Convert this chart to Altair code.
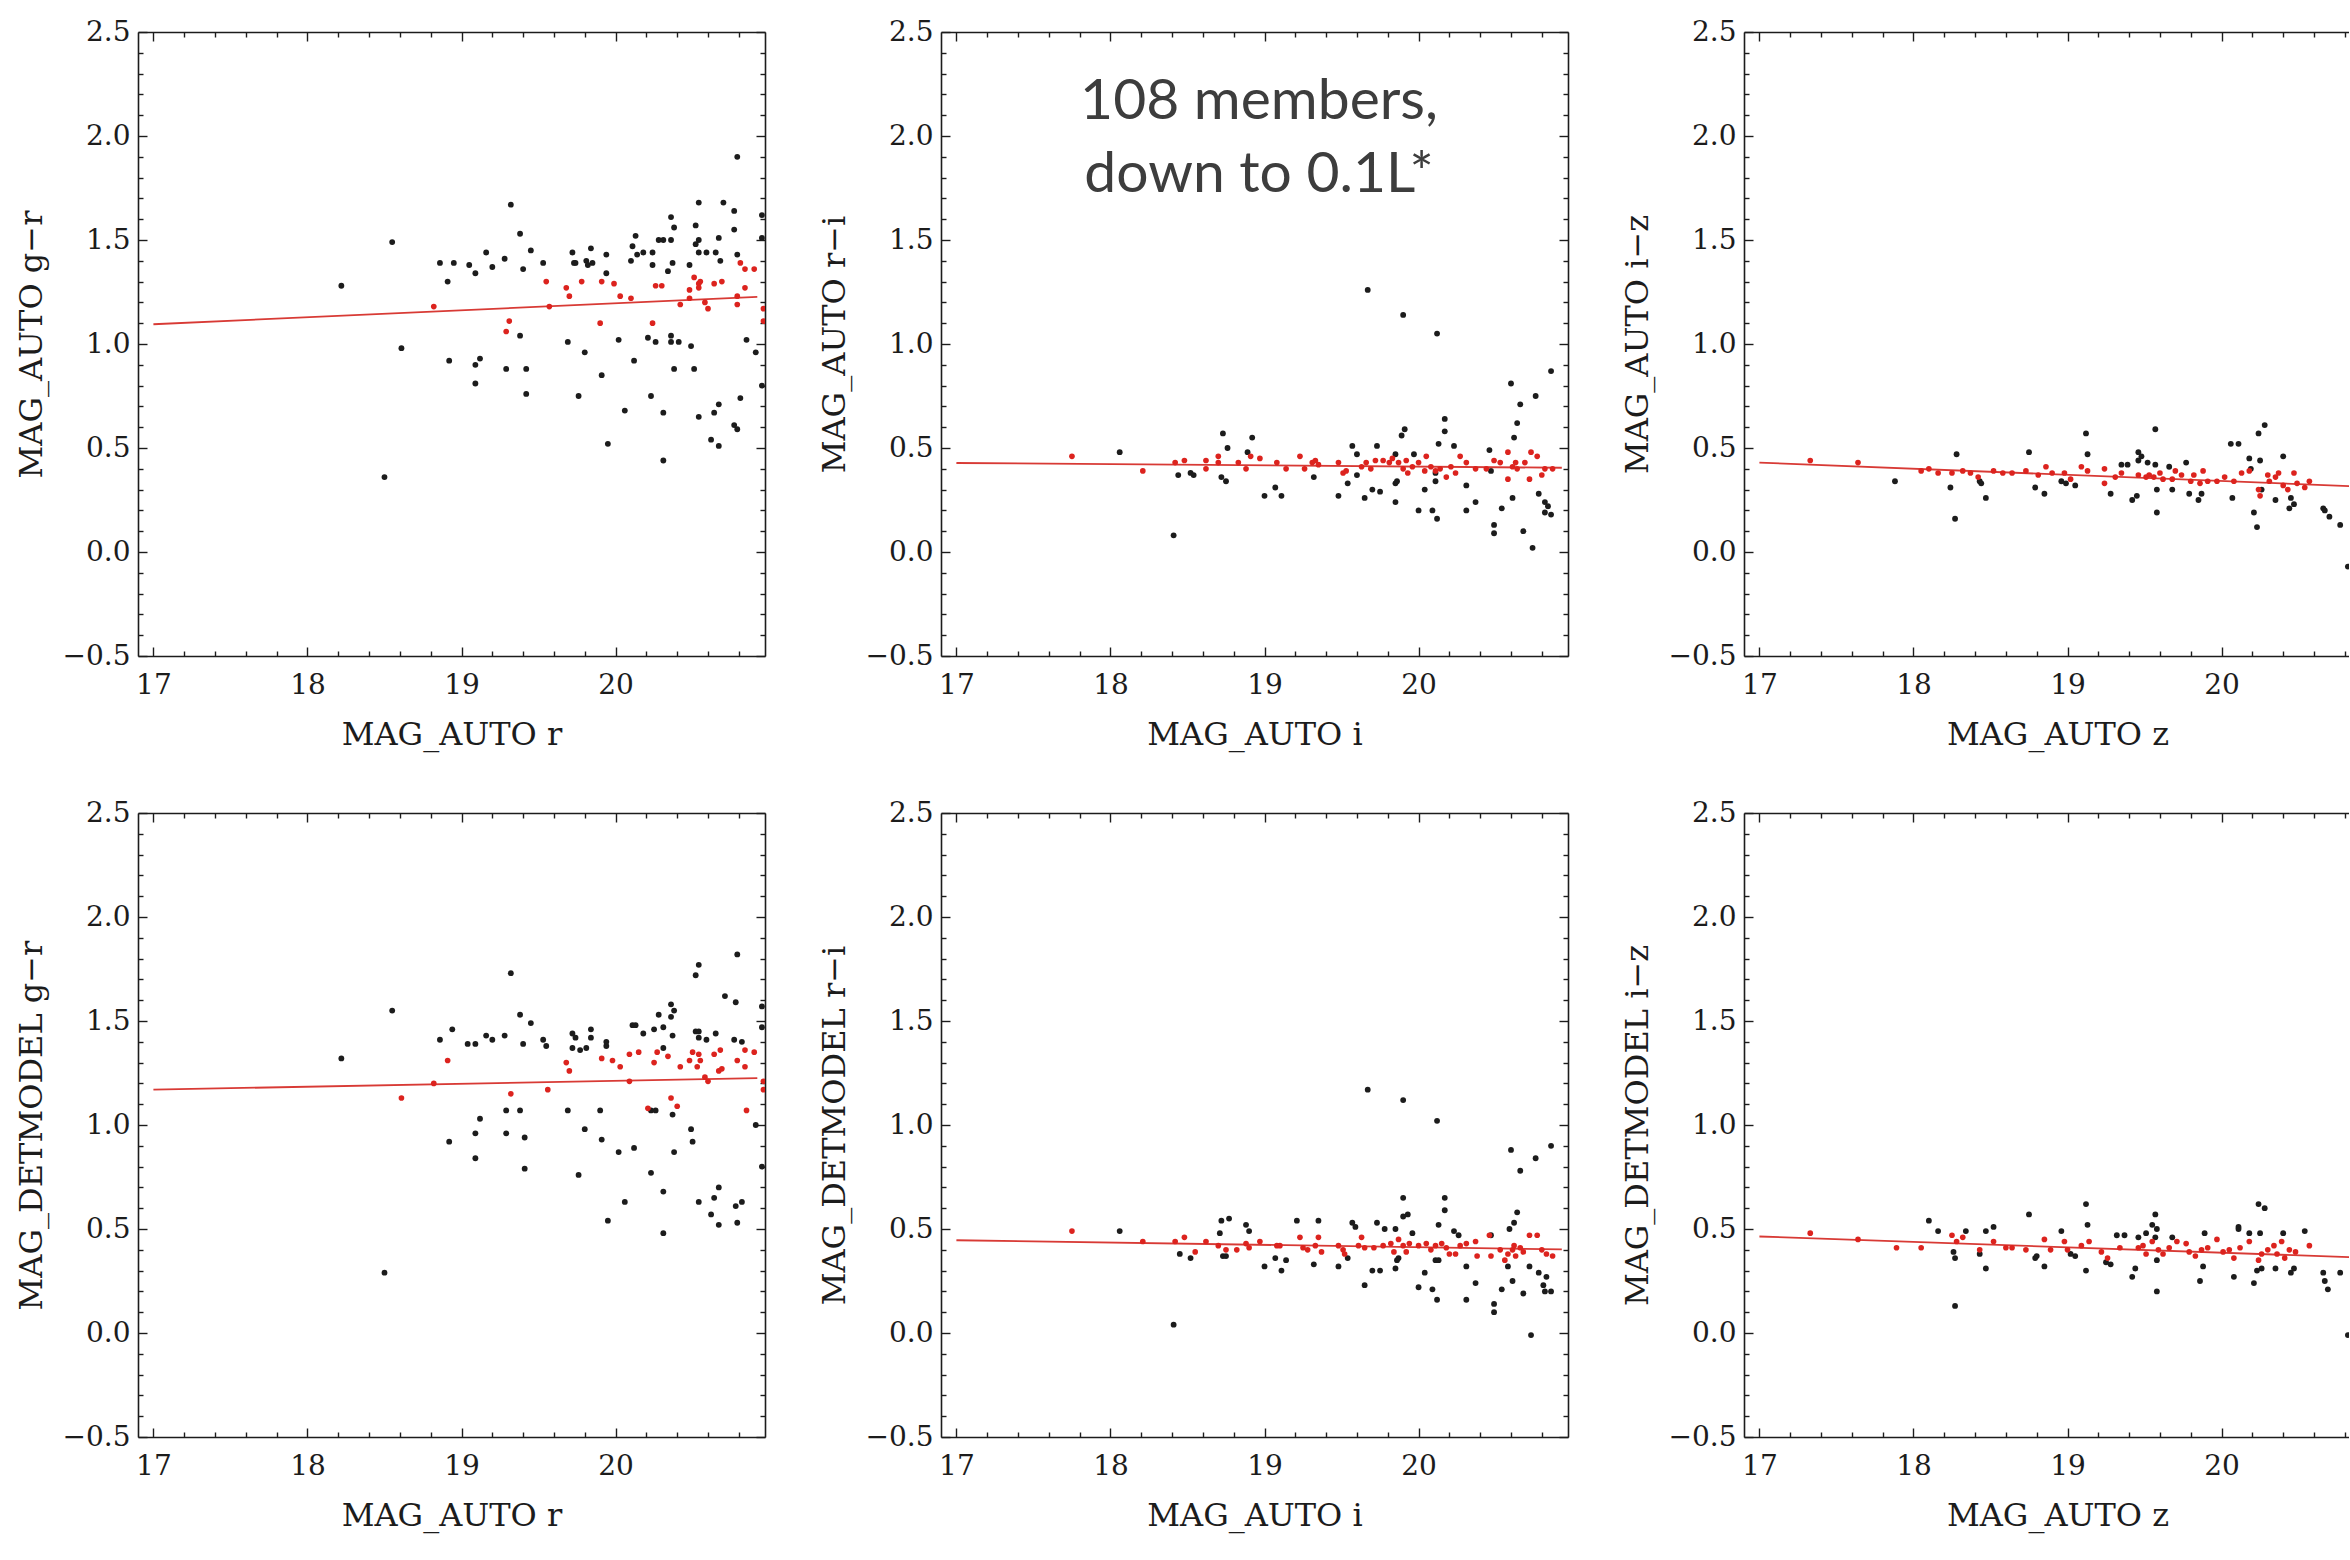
import altair as alt
import pandas as pd

# ---------------- text ----------------
X_TITLES = ["MAG_AUTO r", "MAG_AUTO i", "MAG_AUTO z"]
Y_TITLES_TOP = ["MAG_AUTO g\u2212r", "MAG_AUTO r\u2212i", "MAG_AUTO i\u2212z"]
Y_TITLES_BOTTOM = ["MAG_DETMODEL g\u2212r", "MAG_DETMODEL r\u2212i", "MAG_DETMODEL i\u2212z"]
NOTE_LINES = ["108 members,", "down to 0.1L*"]

# axis tick positions (minor every 0.2 mag / 0.1 colour; majors labelled)
x_ticks = [round(17.0 + 0.2 * i, 1) for i in range(21)]
y_ticks = [round(-0.5 + 0.1 * i, 1) for i in range(31)]

# ---------------- data (magnitude, colour) ----------------
# panel 1: MAG_AUTO r vs MAG_AUTO g-r
p1_all = [
    (20.79, 1.90), (19.32, 1.67), (18.55, 1.49), (18.22, 1.28), (19.38, 1.53), (19.45, 1.45),
    (19.16, 1.44), (19.28, 1.41), (19.20, 1.37), (19.40, 1.36), (19.53, 1.39), (18.86, 1.39),
    (18.95, 1.39), (19.05, 1.38), (19.09, 1.34), (18.91, 1.30), (19.72, 1.44), (19.73, 1.39),
    (19.74, 1.39), (19.81, 1.40), (19.84, 1.46), (19.82, 1.38), (19.85, 1.39), (19.94, 1.43),
    (19.94, 1.34), (20.10, 1.40), (20.11, 1.47), (20.13, 1.52), (20.14, 1.43), (20.18, 1.44),
    (20.24, 1.44), (20.24, 1.38), (20.28, 1.50), (20.31, 1.50), (20.36, 1.50), (20.36, 1.61),
    (20.38, 1.56), (20.37, 1.39), (20.34, 1.35), (20.48, 1.38), (20.52, 1.57), (20.54, 1.68),
    (20.54, 1.50), (20.52, 1.48), (20.54, 1.44), (20.59, 1.44), (20.65, 1.44), (20.67, 1.51),
    (20.68, 1.40), (20.70, 1.68), (20.77, 1.64), (20.77, 1.55), (20.79, 1.43), (20.95, 1.62),
    (20.95, 1.51), (18.61, 0.98), (19.38, 1.04), (18.92, 0.92), (19.12, 0.93), (19.09, 0.90),
    (19.09, 0.81), (19.29, 0.88), (19.42, 0.88), (19.42, 0.76), (19.69, 1.01), (19.80, 0.96),
    (19.76, 0.75), (19.91, 0.85), (19.95, 0.52), (20.02, 1.02), (20.12, 0.92), (20.06, 0.68),
    (20.21, 1.03), (20.26, 1.01), (20.23, 0.75), (20.31, 0.67), (20.31, 0.44), (20.36, 1.04),
    (20.36, 1.01), (20.41, 1.01), (20.38, 0.88), (20.49, 0.99), (20.51, 0.88), (20.54, 0.65),
    (20.64, 0.67), (20.67, 0.71), (20.62, 0.54), (20.67, 0.51), (20.77, 0.61), (20.79, 0.59),
    (20.81, 0.74), (20.85, 1.02), (20.91, 0.96), (20.95, 0.80), (18.50, 0.36),
]
p1_members = [
    (18.82, 1.18), (19.31, 1.11), (19.29, 1.06), (19.55, 1.30), (19.57, 1.18), (19.68, 1.27),
    (19.70, 1.23), (19.78, 1.30), (19.90, 1.10), (19.91, 1.30), (19.99, 1.29), (20.03, 1.23),
    (20.10, 1.22), (20.24, 1.10), (20.26, 1.28), (20.30, 1.28), (20.42, 1.19), (20.48, 1.22),
    (20.48, 1.26), (20.51, 1.32), (20.54, 1.29), (20.55, 1.30), (20.54, 1.27), (20.58, 1.20),
    (20.60, 1.17), (20.64, 1.29), (20.69, 1.30), (20.79, 1.23), (20.79, 1.19), (20.81, 1.39),
    (20.84, 1.36), (20.84, 1.27), (20.90, 1.36), (20.96, 1.17), (20.96, 1.11),
]
p1_fit = [(17.0, 1.095), (20.92, 1.227)]

# panel 2: MAG_AUTO i vs MAG_AUTO r-i
p2_all = [
    (19.67, 1.26), (19.90, 1.14), (20.12, 1.05), (20.86, 0.87), (20.60, 0.81), (20.76, 0.75),
    (20.66, 0.71), (20.64, 0.62), (20.62, 0.55), (20.17, 0.64), (20.17, 0.58), (20.13, 0.52),
    (20.23, 0.51), (20.46, 0.49), (19.91, 0.59), (19.89, 0.56), (19.73, 0.51), (19.57, 0.51),
    (19.60, 0.47), (19.85, 0.47), (19.97, 0.47), (18.92, 0.55), (18.73, 0.57), (18.76, 0.50),
    (18.89, 0.48), (18.06, 0.48), (18.44, 0.37), (18.52, 0.38), (18.54, 0.37), (18.72, 0.36),
    (18.75, 0.34), (19.00, 0.27), (19.07, 0.31), (19.11, 0.27), (19.32, 0.36), (19.48, 0.27),
    (19.54, 0.33), (19.60, 0.37), (19.65, 0.26), (19.70, 0.30), (19.75, 0.29), (19.85, 0.33),
    (19.86, 0.34), (19.85, 0.24), (20.04, 0.30), (20.00, 0.20), (20.09, 0.20), (20.12, 0.16),
    (20.11, 0.34), (20.31, 0.32), (20.37, 0.24), (20.31, 0.20), (20.54, 0.21), (20.49, 0.13),
    (20.49, 0.09), (20.61, 0.26), (20.68, 0.10), (20.74, 0.02), (20.78, 0.28), (20.82, 0.24),
    (20.84, 0.22), (20.82, 0.19), (20.86, 0.18), (18.41, 0.08), (20.47, 0.39), (20.11, 0.38),
]
p2_members = [
    (17.75, 0.46), (18.21, 0.39), (18.42, 0.43), (18.48, 0.44), (18.62, 0.44), (18.62, 0.40),
    (18.70, 0.46), (18.70, 0.43), (18.83, 0.43), (18.88, 0.40), (18.91, 0.46), (18.97, 0.45),
    (19.08, 0.43), (19.14, 0.40), (19.23, 0.46), (19.26, 0.40), (19.31, 0.43), (19.33, 0.44),
    (19.35, 0.42), (19.48, 0.43), (19.51, 0.38), (19.53, 0.39), (19.63, 0.41), (19.66, 0.43),
    (19.72, 0.44), (19.77, 0.44), (19.81, 0.43), (19.83, 0.45), (19.87, 0.43), (19.90, 0.40),
    (19.92, 0.44), (19.93, 0.38), (19.96, 0.41), (20.00, 0.43), (20.05, 0.46), (20.08, 0.41),
    (20.11, 0.39), (20.14, 0.40), (20.18, 0.36), (20.21, 0.41), (20.24, 0.38), (20.27, 0.46),
    (20.31, 0.43), (20.37, 0.40), (20.44, 0.40), (20.49, 0.44), (20.53, 0.43), (20.58, 0.35),
    (20.58, 0.48), (20.61, 0.41), (20.64, 0.40), (20.69, 0.43), (20.72, 0.35), (20.73, 0.48),
    (20.77, 0.46), (20.80, 0.37), (20.82, 0.40), (20.87, 0.40), (20.63, 0.43), (19.69, 0.40),
    (20.04, 0.39),
]
p2_fit = [(17.0, 0.428), (20.93, 0.405)]

# panel 3: MAG_AUTO z vs MAG_AUTO i-z
p3_all = [
    (17.88, 0.34), (18.24, 0.31), (18.28, 0.47), (18.27, 0.16), (18.43, 0.34), (18.44, 0.33),
    (18.47, 0.26), (18.75, 0.48), (18.79, 0.31), (18.85, 0.28), (18.96, 0.34), (18.99, 0.33),
    (19.05, 0.32), (19.12, 0.57), (19.13, 0.47), (19.28, 0.28), (19.35, 0.42), (19.39, 0.42),
    (19.42, 0.25), (19.45, 0.27), (19.46, 0.48), (19.46, 0.44), (19.48, 0.46), (19.52, 0.43),
    (19.57, 0.59), (19.57, 0.42), (19.58, 0.30), (19.58, 0.19), (19.68, 0.30), (19.66, 0.41),
    (19.77, 0.43), (19.79, 0.28), (19.85, 0.25), (19.87, 0.28), (20.06, 0.52), (20.11, 0.52),
    (20.07, 0.26), (20.18, 0.45), (20.19, 0.40), (20.21, 0.19), (20.23, 0.12), (20.24, 0.57),
    (20.28, 0.61), (20.25, 0.44), (20.35, 0.25), (20.40, 0.46), (20.45, 0.26), (20.47, 0.23),
    (20.44, 0.21), (20.66, 0.21), (20.67, 0.20), (20.70, 0.17), (20.77, 0.13), (20.82, -0.07),
    (20.26, 0.30),
]
p3_members = [
    (17.33, 0.44), (17.64, 0.43), (18.05, 0.39), (18.10, 0.40), (18.16, 0.38), (18.25, 0.38),
    (18.32, 0.39), (18.37, 0.38), (18.42, 0.36), (18.52, 0.39), (18.58, 0.38), (18.64, 0.38),
    (18.73, 0.39), (18.81, 0.37), (18.86, 0.41), (18.90, 0.38), (18.98, 0.38), (19.02, 0.35),
    (19.09, 0.41), (19.13, 0.39), (19.24, 0.40), (19.24, 0.33), (19.31, 0.36), (19.35, 0.38),
    (19.46, 0.37), (19.51, 0.36), (19.53, 0.37), (19.56, 0.36), (19.60, 0.38), (19.62, 0.35),
    (19.68, 0.35), (19.70, 0.39), (19.74, 0.37), (19.80, 0.34), (19.82, 0.37), (19.86, 0.33),
    (19.88, 0.39), (19.91, 0.34), (19.97, 0.34), (20.02, 0.36), (20.08, 0.34), (20.13, 0.38),
    (20.18, 0.39), (20.24, 0.30), (20.25, 0.27), (20.30, 0.37), (20.31, 0.34), (20.35, 0.36),
    (20.37, 0.38), (20.40, 0.32), (20.43, 0.30), (20.47, 0.38), (20.49, 0.33), (20.54, 0.31),
    (20.57, 0.34),
]
p3_fit = [(17.0, 0.43), (20.93, 0.314)]

# panel 4: MAG_AUTO r vs MAG_DETMODEL g-r
p4_all = [
    (20.79, 1.82), (20.54, 1.77), (20.52, 1.72), (19.32, 1.73), (18.55, 1.55), (18.22, 1.32),
    (19.38, 1.53), (19.45, 1.49), (18.94, 1.46), (18.86, 1.41), (19.04, 1.39), (19.09, 1.39),
    (19.16, 1.43), (19.20, 1.41), (19.28, 1.43), (19.40, 1.39), (19.53, 1.41), (19.55, 1.38),
    (19.72, 1.44), (19.74, 1.42), (19.72, 1.37), (19.77, 1.36), (19.81, 1.37), (19.84, 1.46),
    (19.84, 1.42), (19.94, 1.38), (19.94, 1.40), (20.11, 1.48), (20.13, 1.48), (20.18, 1.44),
    (20.25, 1.46), (20.28, 1.53), (20.31, 1.47), (20.36, 1.58), (20.36, 1.52), (20.38, 1.55),
    (20.31, 1.37), (20.37, 1.43), (20.52, 1.45), (20.54, 1.45), (20.54, 1.42), (20.59, 1.41),
    (20.65, 1.44), (20.71, 1.62), (20.78, 1.59), (20.77, 1.41), (20.82, 1.40), (20.95, 1.57),
    (20.95, 1.47), (18.92, 0.92), (19.12, 1.03), (19.09, 0.96), (19.09, 0.84), (19.29, 1.07),
    (19.29, 0.96), (19.38, 1.07), (19.41, 0.94), (19.41, 0.79), (19.69, 1.07), (19.80, 0.98),
    (19.76, 0.76), (19.90, 1.07), (19.91, 0.93), (20.02, 0.87), (19.95, 0.54), (20.12, 0.89),
    (20.06, 0.63), (20.23, 1.07), (20.26, 1.07), (20.23, 0.77), (20.31, 0.68), (20.31, 0.48),
    (20.37, 1.05), (20.38, 0.87), (20.49, 0.98), (20.50, 0.92), (20.54, 0.63), (20.64, 0.65),
    (20.67, 0.70), (20.62, 0.57), (20.67, 0.52), (20.78, 0.61), (20.82, 0.63), (20.79, 0.53),
    (20.91, 1.00), (20.95, 0.80), (18.50, 0.29),
]
p4_members = [
    (18.61, 1.13), (18.82, 1.20), (18.91, 1.31), (19.32, 1.15), (19.56, 1.17), (19.68, 1.30),
    (19.70, 1.26), (19.91, 1.32), (19.98, 1.31), (20.03, 1.28), (20.09, 1.34), (20.15, 1.35),
    (20.09, 1.21), (20.21, 1.08), (20.25, 1.30), (20.27, 1.35), (20.34, 1.33), (20.36, 1.13),
    (20.40, 1.09), (20.42, 1.28), (20.48, 1.31), (20.50, 1.35), (20.54, 1.34), (20.55, 1.31),
    (20.53, 1.28), (20.58, 1.23), (20.60, 1.21), (20.64, 1.34), (20.68, 1.36), (20.67, 1.26),
    (20.69, 1.27), (20.79, 1.31), (20.84, 1.28), (20.84, 1.36), (20.85, 1.07), (20.90, 1.35),
    (20.96, 1.21), (20.96, 1.17),
]
p4_fit = [(17.0, 1.17), (20.92, 1.225)]

# panel 5: MAG_AUTO i vs MAG_DETMODEL r-i
p5_all = [
    (19.67, 1.17), (19.90, 1.12), (20.12, 1.02), (20.86, 0.90), (20.60, 0.88), (20.76, 0.84),
    (20.66, 0.78), (20.64, 0.58), (20.62, 0.53), (20.59, 0.50), (19.90, 0.65), (20.17, 0.65),
    (20.17, 0.59), (19.93, 0.57), (19.90, 0.56), (20.13, 0.52), (19.96, 0.48), (19.85, 0.50),
    (20.23, 0.49), (20.26, 0.47), (20.47, 0.47), (19.57, 0.53), (19.59, 0.51), (19.73, 0.53),
    (19.78, 0.50), (19.21, 0.54), (19.35, 0.54), (18.72, 0.54), (18.77, 0.55), (18.71, 0.48),
    (18.88, 0.52), (18.90, 0.49), (18.06, 0.49), (18.45, 0.38), (18.52, 0.36), (18.73, 0.37),
    (18.75, 0.37), (19.07, 0.36), (19.14, 0.35), (19.00, 0.32), (19.11, 0.30), (19.32, 0.33),
    (19.48, 0.32), (19.54, 0.36), (19.65, 0.23), (19.70, 0.30), (19.75, 0.30), (19.85, 0.31),
    (19.86, 0.35), (19.87, 0.36), (20.04, 0.29), (20.00, 0.22), (20.09, 0.21), (20.12, 0.16),
    (20.11, 0.35), (20.13, 0.35), (20.31, 0.32), (20.37, 0.24), (20.31, 0.16), (20.54, 0.21),
    (20.49, 0.14), (20.49, 0.10), (20.58, 0.32), (20.61, 0.25), (20.68, 0.19), (20.73, -0.01),
    (20.72, 0.32), (20.78, 0.29), (20.83, 0.27), (20.81, 0.23), (20.82, 0.20), (20.86, 0.20),
    (18.41, 0.04),
]
p5_members = [
    (17.75, 0.49), (18.21, 0.44), (18.42, 0.44), (18.48, 0.46), (18.55, 0.39), (18.62, 0.44),
    (18.70, 0.42), (18.75, 0.40), (18.82, 0.40), (18.88, 0.43), (18.90, 0.41), (18.97, 0.44),
    (19.08, 0.42), (19.10, 0.42), (19.23, 0.46), (19.25, 0.41), (19.28, 0.40), (19.33, 0.42),
    (19.35, 0.46), (19.37, 0.39), (19.48, 0.42), (19.51, 0.40), (19.52, 0.38), (19.61, 0.42),
    (19.63, 0.46), (19.65, 0.41), (19.71, 0.41), (19.77, 0.42), (19.82, 0.43), (19.84, 0.39),
    (19.87, 0.45), (19.90, 0.42), (19.92, 0.39), (19.94, 0.43), (20.00, 0.42), (20.05, 0.43),
    (20.08, 0.40), (20.11, 0.42), (20.18, 0.41), (20.20, 0.38), (20.24, 0.38), (20.27, 0.42),
    (20.31, 0.43), (20.37, 0.44), (20.38, 0.37), (20.46, 0.47), (20.47, 0.37), (20.53, 0.40),
    (20.56, 0.35), (20.58, 0.38), (20.61, 0.40), (20.63, 0.37), (20.66, 0.41), (20.68, 0.39),
    (20.72, 0.47), (20.77, 0.47), (20.80, 0.40), (20.83, 0.38), (20.87, 0.37), (20.62, 0.42),
    (20.15, 0.43),
]
p5_fit = [(17.0, 0.446), (20.93, 0.402)]

# panel 6: MAG_AUTO z vs MAG_DETMODEL i-z
p6_all = [
    (18.10, 0.54), (18.16, 0.49), (18.26, 0.39), (18.27, 0.36), (18.27, 0.13), (18.34, 0.49),
    (18.43, 0.38), (18.47, 0.31), (18.47, 0.49), (18.52, 0.51), (18.75, 0.57), (18.79, 0.36),
    (18.80, 0.37), (18.85, 0.32), (18.96, 0.49), (19.02, 0.38), (19.05, 0.37), (19.12, 0.62),
    (19.13, 0.52), (19.12, 0.30), (19.25, 0.34), (19.28, 0.33), (19.32, 0.47), (19.37, 0.47),
    (19.42, 0.27), (19.44, 0.31), (19.46, 0.46), (19.51, 0.48), (19.55, 0.52), (19.57, 0.57),
    (19.58, 0.50), (19.58, 0.35), (19.58, 0.20), (19.57, 0.46), (19.68, 0.46), (19.86, 0.25),
    (19.88, 0.32), (19.89, 0.48), (20.08, 0.27), (20.11, 0.51), (20.11, 0.50), (20.18, 0.48),
    (20.21, 0.24), (20.23, 0.30), (20.24, 0.62), (20.28, 0.60), (20.26, 0.31), (20.25, 0.48),
    (20.35, 0.31), (20.40, 0.48), (20.45, 0.29), (20.47, 0.31), (20.54, 0.49), (20.66, 0.29),
    (20.67, 0.25), (20.69, 0.21), (20.77, 0.29), (20.82, -0.01),
]
p6_members = [
    (17.33, 0.48), (17.64, 0.45), (17.89, 0.41), (18.05, 0.41), (18.25, 0.47), (18.28, 0.44),
    (18.32, 0.46), (18.43, 0.40), (18.52, 0.44), (18.60, 0.41), (18.64, 0.41), (18.73, 0.40),
    (18.85, 0.45), (18.89, 0.40), (18.98, 0.44), (19.00, 0.40), (19.09, 0.42), (19.14, 0.44),
    (19.22, 0.39), (19.26, 0.36), (19.34, 0.41), (19.46, 0.41), (19.49, 0.42), (19.51, 0.38),
    (19.55, 0.44), (19.59, 0.40), (19.62, 0.38), (19.66, 0.41), (19.71, 0.44), (19.77, 0.43),
    (19.79, 0.39), (19.83, 0.37), (19.87, 0.40), (19.91, 0.41), (19.97, 0.45), (20.01, 0.39),
    (20.05, 0.40), (20.08, 0.36), (20.12, 0.41), (20.18, 0.44), (20.24, 0.35), (20.26, 0.38),
    (20.30, 0.40), (20.34, 0.42), (20.36, 0.38), (20.39, 0.44), (20.41, 0.36), (20.44, 0.40),
    (20.48, 0.39), (20.57, 0.42),
]
p6_fit = [(17.0, 0.464), (20.93, 0.362)]

# ---------------- layout / style ----------------
PANEL_W = 627
PANEL_H = 624
CUT_W = 605          # third column is cut by the slide edge
X_LO, X_HI = 16.9, 20.97
X_HI_CUT = X_LO + (X_HI - X_LO) * CUT_W / PANEL_W
Y_LO, Y_HI = -0.5, 2.5

SERIF = "DejaVu Serif"
INK = "#1c1c1c"
RED = "#dc231e"
LINE_RED = "#d83a35"

X_MAJOR = "abs(datum.value - round(datum.value)) < 0.001"
Y_MAJOR = "abs(2 * datum.value - round(2 * datum.value)) < 0.001"
X_TICK = alt.ExprRef(expr=f"{X_MAJOR} ? -9 : -5")
Y_TICK = alt.ExprRef(expr=f"{Y_MAJOR} ? -9 : -5")


def panel(all_pts, members, fit, xtitle, ytitle, cut=False, note=False):
    xhi = X_HI_CUT if cut else X_HI
    width = CUT_W if cut else PANEL_W
    xt = [v for v in x_ticks if v <= xhi + 1e-9]
    xs = alt.Scale(domain=[X_LO, xhi], nice=False, zero=False)
    ys = alt.Scale(domain=[Y_LO, Y_HI], nice=False, zero=False)

    df_all = pd.DataFrame(all_pts, columns=["mag", "col"])
    df_mem = pd.DataFrame(members, columns=["mag", "col"])
    df_fit = pd.DataFrame(fit, columns=["mag", "col"])

    ax_bottom = alt.Axis(
        orient="bottom", values=xt, title=xtitle,
        labelExpr=f"{X_MAJOR} ? format(datum.value, 'd') : ''",
        tickSize=X_TICK, labelPadding=24,
        titleX=PANEL_W / 2, titleY=78, titleAlign="center", titleBaseline="middle",
    )
    ax_left = alt.Axis(
        orient="left", values=y_ticks, title=ytitle,
        labelExpr=f"{Y_MAJOR} ? format(datum.value, '.1f') : ''",
        tickSize=Y_TICK, labelPadding=17,
        titleX=-107, titleY=PANEL_H / 2, titleAngle=270,
        titleAlign="center", titleBaseline="middle",
    )
    ax_top = alt.Axis(orient="top", values=xt, labels=False, title=None, tickSize=X_TICK)
    ax_right = alt.Axis(orient="right", values=y_ticks, labels=False, title=None, tickSize=Y_TICK)

    black = alt.Chart(df_all).mark_circle(size=34, color=INK, opacity=1, clip=True).encode(
        x=alt.X("mag:Q", scale=xs, axis=ax_bottom),
        y=alt.Y("col:Q", scale=ys, axis=ax_left),
    )
    line = alt.Chart(df_fit).mark_line(color=LINE_RED, strokeWidth=1.8, clip=True).encode(
        x=alt.X("mag:Q", scale=xs, axis=None),
        y=alt.Y("col:Q", scale=ys, axis=None),
    )
    red = alt.Chart(df_mem).mark_circle(size=32, color=RED, opacity=1, clip=True).encode(
        x=alt.X("mag:Q", scale=xs, axis=ax_top),
        y=alt.Y("col:Q", scale=ys, axis=None if cut else ax_right),
    )
    layers = [black, line, red]
    if note:
        txt = alt.Chart(pd.DataFrame({"k": [0]})).mark_text(
            text=NOTE_LINES, font="Lato", fontSize=57, color="#3d3d3d",
            align="center", baseline="middle", lineHeight=73,
        ).encode(x=alt.value(318), y=alt.value(70))
        layers.append(txt)
    return alt.layer(*layers).resolve_axis(x="independent", y="independent").properties(
        width=width, height=PANEL_H
    )


row1 = alt.hconcat(
    panel(p1_all, p1_members, p1_fit, X_TITLES[0], Y_TITLES_TOP[0]),
    panel(p2_all, p2_members, p2_fit, X_TITLES[1], Y_TITLES_TOP[1], note=True),
    panel(p3_all, p3_members, p3_fit, X_TITLES[2], Y_TITLES_TOP[2], cut=True),
    spacing=52,
)
row2 = alt.hconcat(
    panel(p4_all, p4_members, p4_fit, X_TITLES[0], Y_TITLES_BOTTOM[0]),
    panel(p5_all, p5_members, p5_fit, X_TITLES[1], Y_TITLES_BOTTOM[1]),
    panel(p6_all, p6_members, p6_fit, X_TITLES[2], Y_TITLES_BOTTOM[2], cut=True),
    spacing=52,
)

chart = alt.vconcat(row1, row2, spacing=49).properties(
    padding={"left": 15, "top": 18, "right": 0, "bottom": 14},
    background="white",
).configure_view(stroke=None).configure_axis(
    grid=False,
    domainColor=INK, domainWidth=1.6,
    tickColor=INK, tickWidth=1.4,
    labelFont=SERIF, labelFontSize=28, labelColor=INK,
    labelFlush=False, labelOverlap=False,
    titleFont=SERIF, titleFontSize=32, titleFontWeight="normal", titleColor=INK,
)

chart.save("out.html", embed_options={"renderer": "svg", "actions": False})
